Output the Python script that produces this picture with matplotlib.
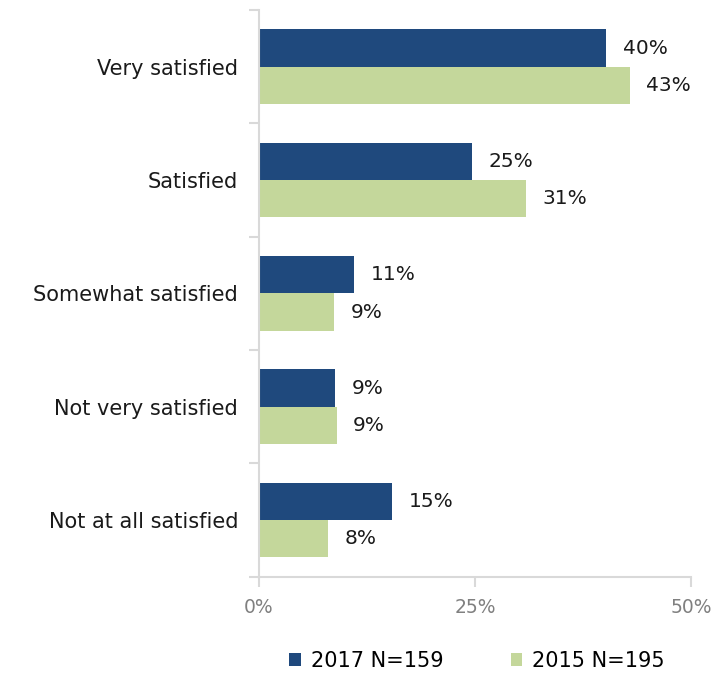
import numpy as np
import matplotlib
matplotlib.use("Agg")
import matplotlib.pyplot as plt

plt.rcParams['font.family'] = ['DejaVu Sans']

categories = ["Very satisfied", "Satisfied", "Somewhat satisfied",
              "Not very satisfied", "Not at all satisfied"]
vals_2017 = [40.2, 24.7, 11.0, 8.8, 15.4]
vals_2015 = [42.9, 30.9, 8.7, 9.0, 8.0]
series_names = ["2017 N=159", "2015 N=195"]
xticks = [0, 25, 50]

navy = "#1F497D"
green = "#C4D79B"
axis_grey = "#D9D9D9"

fig = plt.figure(figsize=(7.23, 6.73), dpi=100)
ax = fig.add_axes([0.358, 0.143, 0.598, 0.842])

y = np.arange(len(categories))
h = 0.33
b1 = ax.barh(y - h / 2, vals_2017, height=h, color=navy, label=series_names[0])
b2 = ax.barh(y + h / 2, vals_2015, height=h, color=green, label=series_names[1])

# value labels next to each bar
for bars in (b1, b2):
    for rect in bars:
        w = rect.get_width()
        ax.text(w + 1.9, rect.get_y() + rect.get_height() / 2, f"{w:.0f}%",
                va="center", ha="left", fontsize=14.5, color="#1a1a1a")

ax.set_ylim(len(categories) - 0.5, -0.5)
ax.set_xlim(0, 50)
ax.set_xticks(xticks)
ax.set_xticklabels([f"{t}%" for t in xticks], fontsize=13.5, color="#808080")
ax.set_yticks(y)
ax.set_yticklabels(categories, fontsize=15, color="#1a1a1a")
ax.set_yticks(np.arange(len(categories) + 1) - 0.5, minor=True)

for s in ("top", "right"):
    ax.spines[s].set_visible(False)
for s in ("left", "bottom"):
    ax.spines[s].set_color(axis_grey)
    ax.spines[s].set_linewidth(1.5)

ax.tick_params(axis="y", which="major", length=0, pad=15)
ax.tick_params(axis="y", which="minor", length=7, color=axis_grey, width=1.5)
ax.tick_params(axis="x", length=7, color=axis_grey, width=1.5, pad=8)

fig.legend(handles=[b1, b2], labels=series_names, loc="lower center",
           bbox_to_anchor=(0.66, -0.025), ncol=2, frameon=False, fontsize=15,
           handlelength=0.55, handleheight=0.55, columnspacing=3.2,
           handletextpad=0.5)

fig.savefig("out.png", dpi=100)
